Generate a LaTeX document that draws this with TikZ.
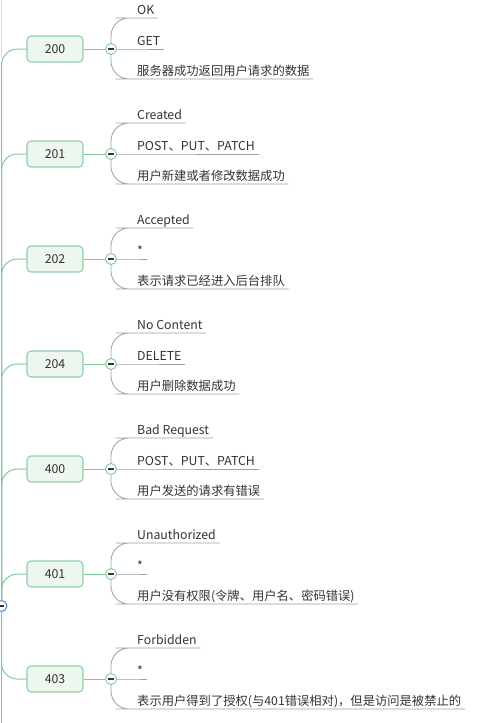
\documentclass[tikz,border=0pt]{standalone}
\usepackage{fontspec}
\setmainfont{Noto Sans CJK SC}
\usetikzlibrary{positioning}
\definecolor{spine}{RGB}{128,201,154}
\definecolor{boxfill}{RGB}{237,247,240}
\definecolor{boxline}{RGB}{140,208,163}
\definecolor{twig}{RGB}{160,160,160}
\definecolor{ink}{RGB}{51,51,51}
\definecolor{rootblue}{RGB}{74,127,208}

\begin{document}
\begin{tikzpicture}[x=1pt, y=-1pt,
		font=\fontsize{12.3}{14}\selectfont,
		code/.style={draw=boxline, fill=boxfill, line width=1.1pt, rounded corners=4pt,
			minimum width=56pt, minimum height=26pt, inner sep=0pt, text=ink},
		fold/.style={circle, draw=spine, fill=white, line width=0.9pt, minimum size=11pt, inner sep=0pt,
			path picture={\draw[ink, line width=1.1pt]
				([xshift=-2.6pt]path picture bounding box.center) --
				([xshift=2.6pt]path picture bounding box.center);}},
		leaf/.style={anchor=south west, inner xsep=3.5pt, inner ysep=3pt, text depth=0pt, text=ink},
		trunk/.style={spine, line width=1pt, rounded corners=16pt},
		twigline/.style={twig, line width=0.8pt, rounded corners=18pt}]
	\useasboundingbox (0,0) rectangle (497,723);
	% root fold and the spine ends
	\node[fold, draw=rootblue, text=twig] (root) at (1.5,606) {};
	\coordinate (topend) at (1.5,0);
	\coordinate (topfade) at (1.5,58);
	\coordinate (tail) at (1.5,723);
	\draw[spine!45, line width=1pt] (topend) -- (topfade);
	\draw[spine, line width=1pt] (root.south) -- (tail);
	% status codes
	\foreach \stat/\yc/\ta/\tb/\tc in {
		200/49/OK/GET/服务器成功返回用户请求的数据,
		201/154/Created/POST、PUT、PATCH/用户新建或者修改数据成功,
		202/259/Accepted/*/表示请求已经进入后台排队,
		204/364/No Content/DELETE/用户删除数据成功,
		400/469/Bad Request/POST、PUT、PATCH/用户发送的请求有错误,
		401/574/Unauthorized/*/用户没有权限(令牌、用户名、密码错误),
		403/679/Forbidden/*/表示用户得到了授权(与401错误相对)，但是访问是被禁止的} {
		\node[code] (s\stat) at (55,\yc) {\stat};
		\node[fold, right=21.5pt of s\stat] (f\stat) {};
		\node[leaf] (a\stat) at (133.5,\yc-31) {\ta};
		\node[leaf] (b\stat) at (133.5,\yc) {\tb};
		\node[leaf] (c\stat) at (133.5,\yc+30) {\tc};
		\draw[spine, line width=1pt] (s\stat) -- (f\stat);
		\draw[twigline] (f\stat.north) |- (a\stat.south west) -- (a\stat.south east);
		\draw[twig, line width=0.8pt] (f\stat.east) -- (b\stat.south west) -- (b\stat.south east);
		\draw[twigline] (f\stat.south) |- (c\stat.south west) -- (c\stat.south east);
		\ifnum\yc<606
			\draw[trunk] (root.north) |- (s\stat.west);
		\else
			\draw[trunk] (root.south) |- (s\stat.west);
		\fi
	}
\end{tikzpicture}
\end{document}
